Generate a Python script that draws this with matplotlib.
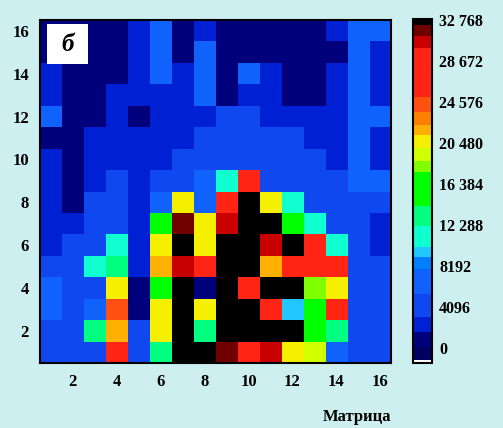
import numpy as np
import matplotlib
matplotlib.use('Agg')
import matplotlib.pyplot as plt
from matplotlib.colors import ListedColormap, BoundaryNorm
from matplotlib.patches import Rectangle

# valores de la matriz 16x16 (fila superior = 16, fila inferior = 1)
filas = [
    [2000, 2000, 2000, 2000, 3600, 7800, 2000, 3600, 2000, 2000, 2000, 2000, 2000, 3600, 7800, 7800],
    [2000, 2000, 2000, 2000, 3600, 7800, 2000, 7800, 2000, 2000, 2000, 2000, 2000, 2000, 7800, 3600],
    [3600, 2000, 2000, 2000, 3600, 7800, 3600, 7800, 2000, 7800, 3600, 2000, 2000, 3600, 7800, 3600],
    [3600, 2000, 2000, 3600, 3600, 3600, 3600, 7800, 2000, 3600, 3600, 2000, 2000, 3600, 7800, 3600],
    [7800, 2000, 2000, 3600, 2000, 3600, 3600, 3600, 5500, 5500, 3600, 3600, 3600, 3600, 7800, 7800],
    [2000, 2000, 3600, 3600, 3600, 3600, 3600, 5500, 5500, 5500, 5500, 5500, 3600, 3600, 7800, 3600],
    [3600, 2000, 3600, 3600, 3600, 3600, 5500, 5500, 5500, 5500, 5500, 5500, 5500, 3600, 7800, 3600],
    [3600, 2000, 3600, 5500, 3600, 5500, 5500, 7800, 12000, 27000, 5500, 5500, 5500, 5500, 7800, 7800],
    [3600, 2000, 5500, 5500, 3600, 7800, 21000, 7800, 27000, 32500, 21000, 12000, 5500, 5500, 5500, 5500],
    [3600, 3600, 5500, 5500, 3600, 16400, 31600, 21000, 30500, 32500, 32500, 16400, 12000, 5500, 5500, 3600],
    [3600, 5500, 5500, 12000, 3600, 21000, 32500, 21000, 32500, 32500, 30500, 32500, 27000, 12000, 5500, 3600],
    [5500, 5500, 12000, 14000, 3600, 22200, 30500, 27000, 32500, 32500, 22200, 27000, 27000, 27000, 5500, 5500],
    [7800, 5500, 5500, 21000, 2000, 16400, 32500, 2000, 32500, 27000, 32500, 32500, 18700, 21000, 5500, 5500],
    [7800, 5500, 7800, 24500, 2000, 21000, 32500, 21000, 32500, 32500, 27000, 10500, 16400, 27000, 5500, 5500],
    [5500, 5500, 13000, 22200, 5500, 21000, 32500, 14000, 32500, 32500, 32500, 32500, 16400, 14000, 5500, 5500],
    [5500, 5500, 5500, 27000, 5500, 14000, 32500, 32500, 31600, 27000, 30500, 21000, 19800, 7800, 5500, 5500],
]
x_ticks = [2, 4, 6, 8, 10, 12, 14, 16]
y_ticks = [2, 4, 6, 8, 10, 12, 14, 16]
cb_labels = ['0', '4096', '8192', '12 288', '16 384', '20 480', '24 576', '28 672', '32 768']

# escala de colores por bandas (como la barra del original)
limites = [0, 300, 1500, 2900, 4400, 6600, 8900, 10100, 11000, 13000, 14900, 18200,
           19200, 20500, 21700, 22700, 23900, 25300, 30000, 31100, 32200, 32768]
colores = ['#ffffff', '#000060', '#00007c', '#0020d4', '#1048f0', '#1062fc', '#0080ff',
           '#20c8ff', '#10ffd0', '#00ff80', '#00ff00', '#80ff00', '#d0ff00', '#f4f000',
           '#ffb000', '#ff8000', '#ff5010', '#ff2414', '#c80000', '#700000', '#000000']
cmap = ListedColormap(colores)
norm = BoundaryNorm(limites, cmap.N)

fondo = '#cdeff0'
fig = plt.figure(figsize=(5.03, 4.28), dpi=100, facecolor=fondo)
ax = fig.add_axes([0.0795, 0.152, 0.698, 0.801])

datos = np.array(filas[::-1])
im = ax.imshow(datos, cmap=cmap, norm=norm, origin='lower', aspect='auto',
               interpolation='nearest', extent=(0.5, 16.5, 0.5, 16.5))

fuente = dict(family='Liberation Serif', weight='bold', size=12)
ax.set_xticks(x_ticks)
ax.set_yticks(y_ticks)
ax.set_xticklabels([str(v) for v in x_ticks], fontdict=fuente)
ax.set_yticklabels([str(v) for v in y_ticks], fontdict=fuente)
ax.tick_params(length=0, pad=8)
for s in ax.spines.values():
    s.set_linewidth(1.5)

# etiqueta del panel (recuadro blanco)
ax.add_patch(Rectangle((0.02, 0.872), 0.117, 0.117, transform=ax.transAxes,
                       fc='white', ec='none', zorder=3))
ax.text(0.0785, 0.93, 'б', transform=ax.transAxes, ha='center', va='center',
        fontsize=18, fontweight='bold', fontstyle='italic', family='Liberation Serif',
        zorder=4)

fig.text(0.777, 0.025, 'Матрица', ha='right', va='center',
         family='Liberation Serif', weight='bold', size=12)

# barra de colores
cax = fig.add_axes([0.821, 0.152, 0.038, 0.804])
cb = fig.colorbar(im, cax=cax, spacing='proportional')
pos = np.linspace(1430, 32670, len(cb_labels))
cb.set_ticks(pos)
cb.set_ticklabels(cb_labels)
cax.minorticks_off()
cax.tick_params(which='both', length=0, pad=5)
for t in cax.get_yticklabels():
    t.set_family('Liberation Serif')
    t.set_weight('bold')
    t.set_size(11.5)
cb.outline.set_linewidth(1.5)

fig.savefig('out.png', dpi=100, facecolor=fondo)
